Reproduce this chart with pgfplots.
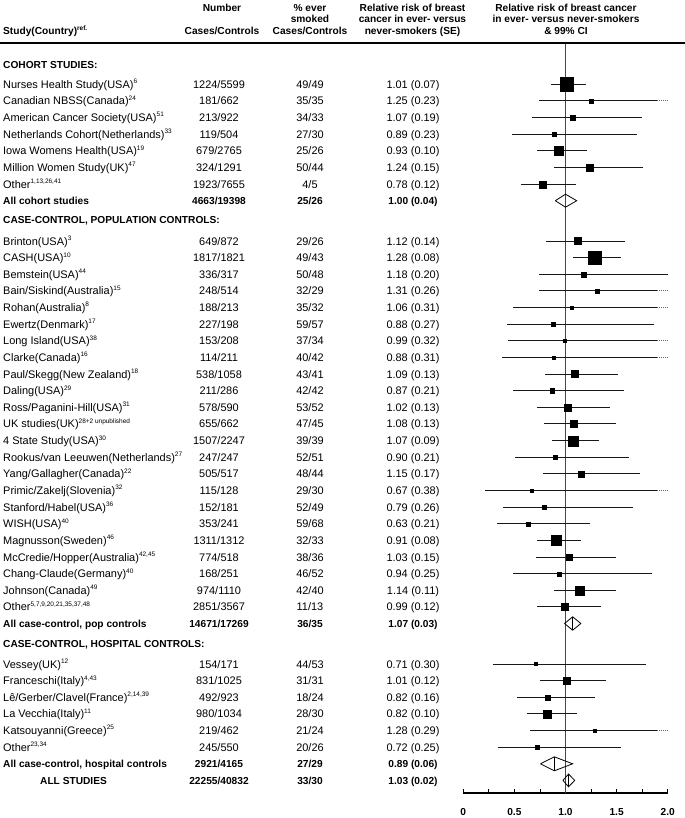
\documentclass[border=0pt]{standalone}
\usepackage{fontspec}
\setmainfont{Liberation Sans}
\usepackage{pgfplots}
\pgfplotsset{compat=1.18}
\usepackage{pgfplotstable}

% y = -(pixel row), rr = plotted estimate, lo/hi = drawn 99% CI ends, s = square side
\pgfplotstableread{
y rr lo hi s
-84.3  1.01 0.86 1.20 14
-100.9 1.25 0.74 1.90 4
-117.6 1.07 0.67 1.75 5
-134.2 0.89 0.48 1.70 4
-150.8 0.93 0.72 1.21 9
-167.5 1.24 0.89 1.76 7
-184.1 0.78 0.56 1.10 7
-241.0 1.12 0.81 1.58 7
-257.6 1.28 1.07 1.54 13
-274.3 1.18 0.74 2.00 5
-290.9 1.31 0.74 1.90 4
-307.5 1.06 0.49 1.90 3.5
-324.2 0.88 0.43 1.87 4
-340.8 0.99 0.44 1.90 3
-357.4 0.88 0.38 1.90 3
-374.0 1.09 0.80 1.51 7
-390.7 0.87 0.49 1.57 4.5
-407.3 1.02 0.72 1.44 7
-423.9 1.08 0.79 1.49 7
-440.6 1.07 0.87 1.33 10
-457.2 0.90 0.51 1.62 4
-473.8 1.15 0.78 1.73 6
-490.5 0.67 0.21 1.90 3
-507.1 0.79 0.39 1.66 3.5
-523.7 0.63 0.33 1.24 4
-540.3 0.91 0.72 1.15 10
-557.0 1.03 0.71 1.49 6
-573.6 0.94 0.49 1.85 4
-590.2 1.14 0.89 1.49 9
-606.9 0.99 0.72 1.35 7
-664.0 0.71 0.29 1.79 3
-680.6 1.01 0.75 1.40 7
-697.3 0.82 0.53 1.29 5
-713.9 0.82 0.62 1.11 8
-730.5 1.28 0.65 1.90 3
-747.2 0.72 0.34 1.54 3.5
}\studies

% dotted continuation of intervals that run past 2.0
\pgfplotstableread{
x y
1.9 -100.9
2.0 -100.9
nan nan
1.9 -290.9
2.0 -290.9
nan nan
1.9 -307.5
2.0 -307.5
nan nan
1.9 -340.8
2.0 -340.8
nan nan
1.9 -357.4
2.0 -357.4
nan nan
1.9 -490.5
2.0 -490.5
nan nan
1.9 -730.5
2.0 -730.5
}\dotdata

\newcommand{\bodyfont}{\fontsize{11}{13}\selectfont}
\newcommand{\boldfont}{\bfseries\fontsize{10.2}{12}\selectfont}
\newcommand{\sups}[1]{\raisebox{0.42em}{\fontsize{6.5}{7}\selectfont #1}}

\newcommand{\Rw}[5]{%
  \node[anchor=base west, yshift=-4bp, inner sep=0pt, font=\bodyfont] at (3bp,-#1bp) {#2};
  \node[anchor=base, yshift=-4bp, inner sep=0pt, font=\bodyfont] at (219bp,-#1bp) {#3};
  \node[anchor=base, yshift=-4bp, inner sep=0pt, font=\bodyfont] at (310bp,-#1bp) {#4};
  \node[anchor=base, yshift=-4bp, inner sep=0pt, font=\bodyfont] at (413bp,-#1bp) {#5};
}
\newcommand{\Bw}[6]{%
  \node[anchor=base west, yshift=-3.7bp, inner sep=0pt, font=\boldfont] at (#6bp,-#1bp) {#2};
  \node[anchor=base, yshift=-3.7bp, inner sep=0pt, font=\boldfont] at (219bp,-#1bp) {#3};
  \node[anchor=base, yshift=-3.7bp, inner sep=0pt, font=\boldfont] at (310bp,-#1bp) {#4};
  \node[anchor=base, yshift=-3.7bp, inner sep=0pt, font=\boldfont] at (413bp,-#1bp) {#5};
}
\newcommand{\Hd}[3]{%
  \node[anchor=base, yshift=-3.7bp, inner sep=0pt, font=\boldfont] at (#1bp,-#2bp) {#3};
}

\begin{document}
\begin{tikzpicture}
\useasboundingbox (0,0) rectangle (685bp,-818bp);

% header
\node[anchor=base west, yshift=-3.7bp, inner sep=0pt, font=\boldfont] at (3bp,-30.7bp) {Study(Country)\sups{ref.}};
\Hd{222}{7.3}{Number}
\Hd{222}{30.7}{Cases/Controls}
\Hd{310}{7.3}{\% ever}
\Hd{310}{19}{smoked}
\Hd{310}{30.7}{Cases/Controls}
\Hd{412.5}{7.3}{Relative risk of breast}
\Hd{412.5}{19}{cancer in ever- versus}
\Hd{412.5}{30.7}{never-smokers (SE)}
\Hd{566}{7.3}{Relative risk of breast cancer}
\Hd{566}{19}{in ever- versus never-smokers}
\Hd{566}{30.7}{\& 99\% CI}
\draw[line width=1.5bp] (0,-43bp) -- (685bp,-43bp);

% section headers
\node[anchor=base west, yshift=-3.7bp, inner sep=0pt, font=\boldfont] at (3bp,-65bp) {COHORT STUDIES:};
\node[anchor=base west, yshift=-3.7bp, inner sep=0pt, font=\boldfont] at (3bp,-220bp) {CASE-CONTROL, POPULATION CONTROLS:};
\node[anchor=base west, yshift=-3.7bp, inner sep=0pt, font=\boldfont] at (3bp,-643.3bp) {CASE-CONTROL, HOSPITAL CONTROLS:};

% cohort
\Rw{84.3}{Nurses Health Study(USA)\sups{6}}{1224/5599}{49/49}{1.01 (0.07)}
\Rw{100.9}{Canadian NBSS(Canada)\sups{24}}{181/662}{35/35}{1.25 (0.23)}
\Rw{117.6}{American Cancer Society(USA)\sups{51}}{213/922}{34/33}{1.07 (0.19)}
\Rw{134.2}{Netherlands Cohort(Netherlands)\sups{33}}{119/504}{27/30}{0.89 (0.23)}
\Rw{150.8}{Iowa Womens Health(USA)\sups{19}}{679/2765}{25/26}{0.93 (0.10)}
\Rw{167.5}{Million Women Study(UK)\sups{47}}{324/1291}{50/44}{1.24 (0.15)}
\Rw{184.1}{Other\sups{1,13,26,41}}{1923/7655}{4/5}{0.78 (0.12)}
\Bw{200.7}{All cohort studies}{4663/19398}{25/26}{1.00 (0.04)}{3}

% population controls
\Rw{241.0}{Brinton(USA)\sups{3}}{649/872}{29/26}{1.12 (0.14)}
\Rw{257.6}{CASH(USA)\sups{10}}{1817/1821}{49/43}{1.28 (0.08)}
\Rw{274.3}{Bemstein(USA)\sups{44}}{336/317}{50/48}{1.18 (0.20)}
\Rw{290.9}{Bain/Siskind(Australia)\sups{15}}{248/514}{32/29}{1.31 (0.26)}
\Rw{307.5}{Rohan(Australia)\sups{8}}{188/213}{35/32}{1.06 (0.31)}
\Rw{324.2}{Ewertz(Denmark)\sups{17}}{227/198}{59/57}{0.88 (0.27)}
\Rw{340.8}{Long Island(USA)\sups{38}}{153/208}{37/34}{0.99 (0.32)}
\Rw{357.4}{Clarke(Canada)\sups{16}}{114/211}{40/42}{0.88 (0.31)}
\Rw{374.0}{Paul/Skegg(New Zealand)\sups{18}}{538/1058}{43/41}{1.09 (0.13)}
\Rw{390.7}{Daling(USA)\sups{29}}{211/286}{42/42}{0.87 (0.21)}
\Rw{407.3}{Ross/Paganini-Hill(USA)\sups{31}}{578/590}{53/52}{1.02 (0.13)}
\Rw{423.9}{UK studies(UK)\sups{28+2 unpublished}}{655/662}{47/45}{1.08 (0.13)}
\Rw{440.6}{4 State Study(USA)\sups{30}}{1507/2247}{39/39}{1.07 (0.09)}
\Rw{457.2}{Rookus/van Leeuwen(Netherlands)\sups{27}}{247/247}{52/51}{0.90 (0.21)}
\Rw{473.8}{Yang/Gallagher(Canada)\sups{22}}{505/517}{48/44}{1.15 (0.17)}
\Rw{490.5}{Primic/Zakelj(Slovenia)\sups{32}}{115/128}{29/30}{0.67 (0.38)}
\Rw{507.1}{Stanford/Habel(USA)\sups{36}}{152/181}{52/49}{0.79 (0.26)}
\Rw{523.7}{WISH(USA)\sups{40}}{353/241}{59/68}{0.63 (0.21)}
\Rw{540.3}{Magnusson(Sweden)\sups{46}}{1311/1312}{32/33}{0.91 (0.08)}
\Rw{557.0}{McCredie/Hopper(Australia)\sups{42,45}}{774/518}{38/36}{1.03 (0.15)}
\Rw{573.6}{Chang-Claude(Germany)\sups{40}}{168/251}{46/52}{0.94 (0.25)}
\Rw{590.2}{Johnson(Canada)\sups{49}}{974/1110}{42/40}{1.14 (0.11)}
\Rw{606.9}{Other\sups{5,7,9,20,21,35,37,48}}{2851/3567}{11/13}{0.99 (0.12)}
\Bw{623.5}{All case-control, pop controls}{14671/17269}{36/35}{1.07 (0.03)}{3}

% hospital controls
\Rw{664.0}{Vessey(UK)\sups{12}}{154/171}{44/53}{0.71 (0.30)}
\Rw{680.6}{Franceschi(Italy)\sups{4,43}}{831/1025}{31/31}{1.01 (0.12)}
\Rw{697.3}{Lê/Gerber/Clavel(France)\sups{2,14,39}}{492/923}{18/24}{0.82 (0.16)}
\Rw{713.9}{La Vecchia(Italy)\sups{11}}{980/1034}{28/30}{0.82 (0.10)}
\Rw{730.5}{Katsouyanni(Greece)\sups{25}}{219/462}{21/24}{1.28 (0.29)}
\Rw{747.2}{Other\sups{23,34}}{245/550}{20/26}{0.72 (0.25)}
\Bw{763.8}{All case-control, hospital controls}{2921/4165}{27/29}{0.89 (0.06)}{3}
\Bw{780.4}{ALL STUDIES}{22255/40832}{33/30}{1.03 (0.02)}{40}

\begin{axis}[
  at={(463.3bp,-793bp)}, anchor=south west,
  scale only axis, width=204.4bp, height=750bp,
  xmin=0, xmax=2, ymin=-793, ymax=-43,
  axis x line=bottom, axis y line=none,
  x axis line style={-, line width=1.3pt},
  xtick={0,0.5,1,1.5,2}, xticklabels={0,0.5,1.0,1.5,2.0},
  minor xtick={0.25,0.75,1.25,1.75},
  major tick length=4bp, minor tick length=4bp,
  xtick align=inside,
  tick style={black, line width=0.9pt},
  xticklabel style={font=\boldfont, yshift=-12bp},
  clip=false,
]
% reference line at 1.0
\addplot[black!72, line width=1.4pt] coordinates {(1,-44) (1,-793)};
% confidence intervals and squares
\addplot[black, only marks, mark=square*, scatter,
  scatter/use mapped color={draw=black, fill=black},
  mark options={line width=0.1pt},
  visualization depends on={\thisrow{s}/2 \as \hs},
  scatter/@pre marker code/.append style={/tikz/mark size=\hs},
  error bars/.cd, x dir=both, x explicit, error mark=none,
  error bar style={black!90, line width=0.9pt}]
  table[x=rr, y=y, x error plus expr=\thisrow{hi}-\thisrow{rr}, x error minus expr=\thisrow{rr}-\thisrow{lo}] {\studies};
% dotted continuation
\addplot[black!60, densely dotted, line width=0.9pt, mark=none, unbounded coords=jump] table[x=x, y=y] {\dotdata};
% summary diamonds
\addplot[black, line width=0.8pt] coordinates {(0.90,-200.7) (1.00,-194.2) (1.11,-200.7) (1.00,-207.2) (0.90,-200.7)};
\addplot[black, line width=0.8pt] coordinates {(0.99,-623.5) (1.07,-616.8) (1.15,-623.5) (1.07,-630.2) (0.99,-623.5)};
\addplot[black, line width=0.8pt] coordinates {(1.07,-616.8) (1.07,-630.2)};
\addplot[black, line width=0.8pt] coordinates {(0.755,-763.8) (0.89,-756.8) (1.07,-763.8) (0.89,-770.8) (0.755,-763.8)};
\addplot[black, line width=0.8pt] coordinates {(0.89,-756.8) (0.89,-770.8)};
\addplot[black, line width=0.8pt] coordinates {(0.975,-780.4) (1.03,-774) (1.09,-780.4) (1.03,-786.8) (0.975,-780.4)};
\addplot[black, line width=0.8pt] coordinates {(1.03,-774) (1.03,-786.8)};
\end{axis}
\end{tikzpicture}
\end{document}
